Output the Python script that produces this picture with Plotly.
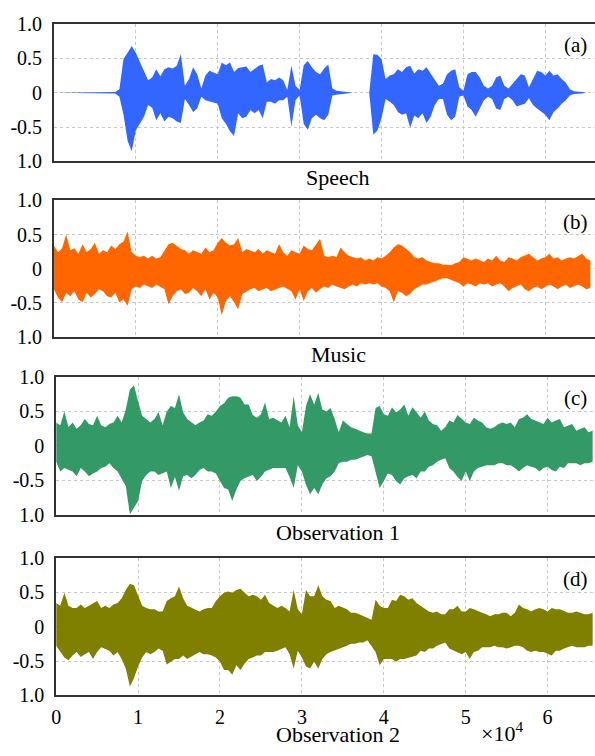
import plotly.graph_objects as go

# ---------------- data (envelopes) ----------------
# sample index grid (every 500 samples)
X = list(range(0, 65501, 500))

SPEECH_UP = [0, 0, 0, 0, 0, 0, 0, 0, 0, 0, 0,
             0.01, 0.01, 0.01, 0.01, 0.01, 0.05, 0.49, 0.58, 0.68, 0.58,
             0.45, 0.30, 0.18, 0.22, 0.34, 0.24, 0.34, 0.37, 0.35, 0.39,
             0.56, 0.10, 0.20, 0.37, 0.27, 0.06, 0.25, 0.32, 0.30, 0.27,
             0.44, 0.40, 0.44, 0.30, 0.36, 0.37, 0.38, 0.30, 0.34, 0.39,
             0.41, 0.15, 0.20, 0.18, 0.22, 0.18, 0.04, 0.39, 0.10, 0.04,
             0.40, 0.46, 0.37, 0.30, 0.27, 0.35, 0.41, 0.06, 0.03, 0.02,
             0.02, 0, 0, 0, 0, 0, 0, 0.56, 0.55, 0.49,
             0.20, 0.25, 0.27, 0.34, 0.30, 0.37, 0.39, 0.28, 0.34, 0.32,
             0.37, 0.28, 0.18, 0.10, 0.13, 0.27, 0.32, 0.34, 0.08, 0.03,
             0.27, 0.30, 0.30, 0.22, 0.10, 0.06, 0.10, 0.22, 0.25, 0.10,
             0.06, 0.13, 0.20, 0.27, 0.25, 0.08, 0.20, 0.32, 0.30, 0.25,
             0.32, 0.25, 0.27, 0.20, 0.15, 0.05, 0.02, 0.02, 0.01, 0, 0]
SPEECH_LO = [0, 0, 0, 0, 0, 0, 0, 0, 0, 0, 0,
             -0.01, -0.01, -0.01, -0.01, -0.01, -0.06, -0.32, -0.70, -0.85, -0.55,
             -0.45, -0.35, -0.18, -0.22, -0.40, -0.30, -0.42, -0.35, -0.37, -0.42,
             -0.44, -0.09, -0.18, -0.28, -0.23, -0.06, -0.11, -0.13, -0.15, -0.16,
             -0.37, -0.45, -0.56, -0.63, -0.30, -0.37, -0.35, -0.25, -0.30, -0.25,
             -0.37, -0.13, -0.13, -0.16, -0.11, -0.11, -0.06, -0.49, -0.11, -0.04,
             -0.45, -0.54, -0.37, -0.32, -0.37, -0.40, -0.32, -0.04, -0.03, -0.02,
             -0.02, 0, 0, 0, 0, 0, 0, -0.61, -0.55, -0.37,
             -0.09, -0.13, -0.18, -0.28, -0.32, -0.30, -0.51, -0.33, -0.37, -0.30,
             -0.44, -0.35, -0.18, -0.09, -0.09, -0.32, -0.40, -0.35, -0.06, -0.04,
             -0.20, -0.25, -0.35, -0.23, -0.11, -0.06, -0.09, -0.23, -0.25, -0.09,
             -0.06, -0.11, -0.20, -0.18, -0.16, -0.08, -0.18, -0.23, -0.28, -0.32,
             -0.40, -0.28, -0.23, -0.16, -0.11, -0.04, -0.02, -0.02, -0.01, 0, 0]

MUSIC_UP = [0.34, 0.24, 0.30, 0.50, 0.27, 0.30, 0.22, 0.36, 0.24, 0.29,
            0.38, 0.22, 0.27, 0.24, 0.34, 0.29, 0.36, 0.40, 0.54, 0.24,
            0.19, 0.17, 0.19, 0.15, 0.19, 0.15, 0.17, 0.27, 0.36, 0.38,
            0.34, 0.29, 0.27, 0.22, 0.27, 0.24, 0.22, 0.31, 0.24, 0.27,
            0.38, 0.45, 0.38, 0.34, 0.36, 0.45, 0.24, 0.29, 0.27, 0.24,
            0.29, 0.22, 0.27, 0.24, 0.22, 0.36, 0.24, 0.19, 0.27, 0.24,
            0.22, 0.34, 0.29, 0.27, 0.36, 0.44, 0.19, 0.17, 0.19, 0.17,
            0.31, 0.24, 0.19, 0.17, 0.15, 0.17, 0.12, 0.15, 0.12, 0.17,
            0.15, 0.19, 0.24, 0.31, 0.36, 0.34, 0.29, 0.24, 0.17, 0.15,
            0.17, 0.12, 0.10, 0.08, 0.08, 0.06, 0.06, 0.05, 0.08, 0.10,
            0.17, 0.15, 0.12, 0.15, 0.12, 0.10, 0.15, 0.12, 0.19, 0.12,
            0.10, 0.17, 0.15, 0.12, 0.17, 0.19, 0.22, 0.17, 0.12, 0.15,
            0.17, 0.22, 0.15, 0.17, 0.12, 0.15, 0.17, 0.15, 0.19, 0.22,
            0.15, 0.12]
MUSIC_LO = [-0.30, -0.42, -0.49, -0.35, -0.40, -0.33, -0.45, -0.49, -0.35, -0.42,
            -0.37, -0.30, -0.33, -0.40, -0.42, -0.35, -0.49, -0.45, -0.54, -0.30,
            -0.26, -0.28, -0.23, -0.26, -0.28, -0.23, -0.26, -0.30, -0.52, -0.40,
            -0.33, -0.30, -0.37, -0.35, -0.28, -0.33, -0.40, -0.30, -0.45, -0.35,
            -0.42, -0.68, -0.47, -0.40, -0.49, -0.59, -0.37, -0.33, -0.30, -0.28,
            -0.33, -0.30, -0.28, -0.33, -0.30, -0.28, -0.26, -0.30, -0.33, -0.45,
            -0.30, -0.47, -0.33, -0.28, -0.35, -0.30, -0.26, -0.28, -0.23, -0.26,
            -0.28, -0.30, -0.26, -0.23, -0.26, -0.21, -0.23, -0.21, -0.23, -0.21,
            -0.26, -0.28, -0.33, -0.49, -0.33, -0.35, -0.40, -0.37, -0.30, -0.26,
            -0.23, -0.23, -0.21, -0.18, -0.16, -0.14, -0.14, -0.16, -0.18, -0.21,
            -0.26, -0.21, -0.23, -0.26, -0.21, -0.23, -0.21, -0.26, -0.23, -0.21,
            -0.26, -0.33, -0.28, -0.26, -0.23, -0.30, -0.33, -0.28, -0.26, -0.30,
            -0.26, -0.23, -0.26, -0.30, -0.26, -0.23, -0.28, -0.26, -0.23, -0.26,
            -0.30, -0.28]

OBS1_UP = [0.34, 0.30, 0.50, 0.27, 0.34, 0.25, 0.30, 0.39, 0.32, 0.30,
           0.44, 0.30, 0.27, 0.32, 0.34, 0.44, 0.34, 0.53, 0.82, 0.88,
           0.65, 0.44, 0.39, 0.34, 0.39, 0.49, 0.30, 0.50, 0.58, 0.55,
           0.75, 0.49, 0.39, 0.34, 0.30, 0.34, 0.37, 0.46, 0.44, 0.50,
           0.58, 0.62, 0.70, 0.72, 0.72, 0.70, 0.60, 0.60, 0.45, 0.41,
           0.46, 0.63, 0.39, 0.41, 0.37, 0.34, 0.44, 0.27, 0.72, 0.30,
           0.20, 0.58, 0.75, 0.60, 0.77, 0.53, 0.50, 0.55, 0.39, 0.20,
           0.37, 0.32, 0.27, 0.25, 0.22, 0.20, 0.18, 0.18, 0.55, 0.58,
           0.46, 0.44, 0.56, 0.49, 0.53, 0.60, 0.44, 0.56, 0.49, 0.41,
           0.50, 0.37, 0.32, 0.30, 0.22, 0.27, 0.37, 0.34, 0.45, 0.40,
           0.34, 0.32, 0.41, 0.37, 0.34, 0.27, 0.25, 0.27, 0.32, 0.34,
           0.32, 0.34, 0.27, 0.39, 0.41, 0.46, 0.39, 0.37, 0.34, 0.32,
           0.41, 0.34, 0.37, 0.39, 0.27, 0.30, 0.32, 0.22, 0.25, 0.27,
           0.20, 0.22]
OBS1_LO = [-0.23, -0.37, -0.32, -0.35, -0.37, -0.44, -0.32, -0.37, -0.44, -0.40,
           -0.37, -0.32, -0.30, -0.25, -0.32, -0.37, -0.47, -0.58, -0.99, -0.90,
           -0.80, -0.51, -0.42, -0.37, -0.37, -0.42, -0.40, -0.37, -0.61, -0.45,
           -0.65, -0.44, -0.42, -0.47, -0.42, -0.35, -0.32, -0.37, -0.37, -0.40,
           -0.51, -0.61, -0.63, -0.80, -0.63, -0.51, -0.47, -0.44, -0.42, -0.51,
           -0.45, -0.37, -0.35, -0.32, -0.32, -0.32, -0.32, -0.45, -0.61, -0.28,
           -0.37, -0.56, -0.70, -0.61, -0.70, -0.56, -0.47, -0.44, -0.37, -0.25,
           -0.23, -0.23, -0.20, -0.20, -0.18, -0.16, -0.13, -0.15, -0.37, -0.61,
           -0.51, -0.40, -0.42, -0.51, -0.56, -0.47, -0.44, -0.42, -0.47, -0.37,
           -0.37, -0.30, -0.28, -0.23, -0.20, -0.18, -0.32, -0.37, -0.45, -0.51,
           -0.37, -0.51, -0.37, -0.32, -0.30, -0.28, -0.28, -0.28, -0.25, -0.25,
           -0.28, -0.28, -0.32, -0.37, -0.32, -0.28, -0.30, -0.32, -0.37, -0.32,
           -0.30, -0.35, -0.37, -0.30, -0.32, -0.25, -0.25, -0.25, -0.28, -0.25,
           -0.25, -0.23]

OBS2_UP = [0.34, 0.30, 0.49, 0.30, 0.27, 0.27, 0.32, 0.27, 0.30, 0.34,
           0.37, 0.27, 0.30, 0.27, 0.32, 0.34, 0.41, 0.53, 0.62, 0.60,
           0.45, 0.30, 0.27, 0.25, 0.25, 0.22, 0.22, 0.37, 0.41, 0.44,
           0.58, 0.41, 0.30, 0.27, 0.25, 0.22, 0.25, 0.27, 0.27, 0.37,
           0.44, 0.49, 0.51, 0.49, 0.53, 0.55, 0.49, 0.44, 0.46, 0.44,
           0.39, 0.46, 0.34, 0.30, 0.27, 0.30, 0.27, 0.22, 0.53, 0.25,
           0.18, 0.53, 0.44, 0.44, 0.60, 0.44, 0.39, 0.37, 0.27, 0.30,
           0.27, 0.25, 0.20, 0.20, 0.18, 0.15, 0.13, 0.10, 0.39, 0.30,
           0.27, 0.27, 0.39, 0.37, 0.46, 0.44, 0.39, 0.41, 0.34, 0.30,
           0.25, 0.22, 0.20, 0.22, 0.18, 0.18, 0.25, 0.25, 0.30, 0.22,
           0.22, 0.27, 0.25, 0.22, 0.20, 0.18, 0.15, 0.18, 0.18, 0.20,
           0.20, 0.15, 0.20, 0.32, 0.27, 0.25, 0.22, 0.25, 0.27, 0.25,
           0.22, 0.27, 0.25, 0.25, 0.22, 0.20, 0.20, 0.22, 0.20, 0.18,
           0.18, 0.20]
OBS2_LO = [-0.28, -0.37, -0.45, -0.49, -0.42, -0.37, -0.44, -0.40, -0.37, -0.47,
           -0.37, -0.30, -0.32, -0.35, -0.42, -0.37, -0.47, -0.61, -0.87, -0.75,
           -0.58, -0.45, -0.37, -0.40, -0.37, -0.32, -0.35, -0.55, -0.51, -0.47,
           -0.47, -0.42, -0.47, -0.44, -0.40, -0.37, -0.40, -0.40, -0.42, -0.45,
           -0.51, -0.63, -0.63, -0.70, -0.56, -0.63, -0.54, -0.47, -0.45, -0.42,
           -0.42, -0.37, -0.37, -0.37, -0.35, -0.32, -0.30, -0.40, -0.61, -0.35,
           -0.45, -0.58, -0.61, -0.51, -0.61, -0.47, -0.40, -0.37, -0.35, -0.32,
           -0.30, -0.28, -0.25, -0.25, -0.23, -0.23, -0.20, -0.28, -0.37, -0.56,
           -0.47, -0.47, -0.47, -0.51, -0.47, -0.47, -0.45, -0.44, -0.42, -0.35,
           -0.37, -0.32, -0.32, -0.28, -0.25, -0.23, -0.32, -0.35, -0.37, -0.40,
           -0.37, -0.47, -0.37, -0.35, -0.30, -0.30, -0.30, -0.28, -0.30, -0.30,
           -0.32, -0.30, -0.28, -0.28, -0.30, -0.35, -0.37, -0.35, -0.37, -0.37,
           -0.40, -0.42, -0.35, -0.35, -0.32, -0.30, -0.28, -0.30, -0.30, -0.30,
           -0.28, -0.28]

TITLES = ["Speech", "Music", "Observation 1", "Observation 2"]
TAGS = ["(a)", "(b)", "(c)", "(d)"]
COLORS = ["#3366ff", "#ff6600", "#339966", "#808000"]
X_TICKS = [0, 10000, 20000, 30000, 40000, 50000, 60000]
X_TICKTEXT = ["0", "1", "2", "3", "4", "5", "6"]
Y_TICKS = [-1, -0.5, 0, 0.5, 1]
Y_TICKTEXT = ["1.0", "-0.5", "0", "0.5", "1.0"]

# ---------------- layout geometry (pixels) ----------------
W, H = 595, 756
PANEL_TOP = [13.3, 195, 377, 563]
PANEL_BOT = [155, 336, 519, 705]
PANEL_LEFT = [49.3, 49.3, 51.6, 51.6]
PX_PER_UNIT = 82.6  # pixels per 10^4 samples
TITLE_Y = [172, 354, 537, 745]
FONT = "Liberation Serif"

series = [(SPEECH_UP, SPEECH_LO), (MUSIC_UP, MUSIC_LO), (OBS1_UP, OBS1_LO), (OBS2_UP, OBS2_LO)]

fig = go.Figure()
layout = dict(width=W, height=H, margin=dict(l=0, r=0, t=0, b=0),
              paper_bgcolor="white", plot_bgcolor="white", showlegend=False,
              font=dict(family=FONT, size=20, color="black"))
annotations = []

for i, ((up, lo), color) in enumerate(zip(series, COLORS)):
    n = i + 1
    xa = "x" if n == 1 else f"x{n}"
    ya = "y" if n == 1 else f"y{n}"
    fig.add_trace(go.Scatter(x=X, y=lo, xaxis=xa, yaxis=ya, mode="lines",
                             line=dict(width=0, color=color), hoverinfo="skip"))
    fig.add_trace(go.Scatter(x=X, y=up, xaxis=xa, yaxis=ya, mode="lines",
                             line=dict(width=0, color=color), fill="tonexty",
                             fillcolor=color, hoverinfo="skip"))
    xmax = (W - PANEL_LEFT[i]) / PX_PER_UNIT * 10000
    layout["xaxis" if n == 1 else f"xaxis{n}"] = dict(
        domain=[PANEL_LEFT[i] / W, 1], anchor=ya, range=[0, xmax],
        tickvals=X_TICKS, ticktext=X_TICKTEXT, showticklabels=(n == 4),
        ticks="", ticklabelstandoff=3,
        showgrid=True, gridcolor="#c8c8c8", griddash="dot", gridwidth=1,
        showline=True, mirror=True, linecolor="#333333", linewidth=1.6,
        zeroline=False, tickfont=dict(family=FONT, size=20, color="black"))
    layout["yaxis" if n == 1 else f"yaxis{n}"] = dict(
        domain=[1 - PANEL_BOT[i] / H, 1 - PANEL_TOP[i] / H], anchor=xa,
        range=[-1, 1], tickvals=Y_TICKS, ticktext=Y_TICKTEXT,
        ticks="", ticklabelstandoff=6,
        showgrid=True, gridcolor="#c8c8c8", griddash="dot", gridwidth=1,
        showline=True, mirror=False, linecolor="#333333", linewidth=1.6,
        zeroline=False, tickfont=dict(family=FONT, size=20, color="black"))
    annotations.append(dict(text=TITLES[i], x=336 / W, y=1 - TITLE_Y[i] / H,
                            xref="paper", yref="paper", xanchor="center", yanchor="middle",
                            showarrow=False, font=dict(family=FONT, size=22, color="black")))
    annotations.append(dict(text=TAGS[i], x=575 / W, y=1 - (PANEL_TOP[i] + 22) / H,
                            xref="paper", yref="paper", xanchor="center", yanchor="middle",
                            showarrow=False, font=dict(family=FONT, size=21, color="black")))

annotations.append(dict(text="×10<sup>4</sup>", x=478 / W, y=1 - 743 / H,
                        xref="paper", yref="paper", xanchor="left", yanchor="middle",
                        showarrow=False, font=dict(family=FONT, size=22, color="black")))
layout["annotations"] = annotations
fig.update_layout(**layout)
fig.write_html("out.html")
